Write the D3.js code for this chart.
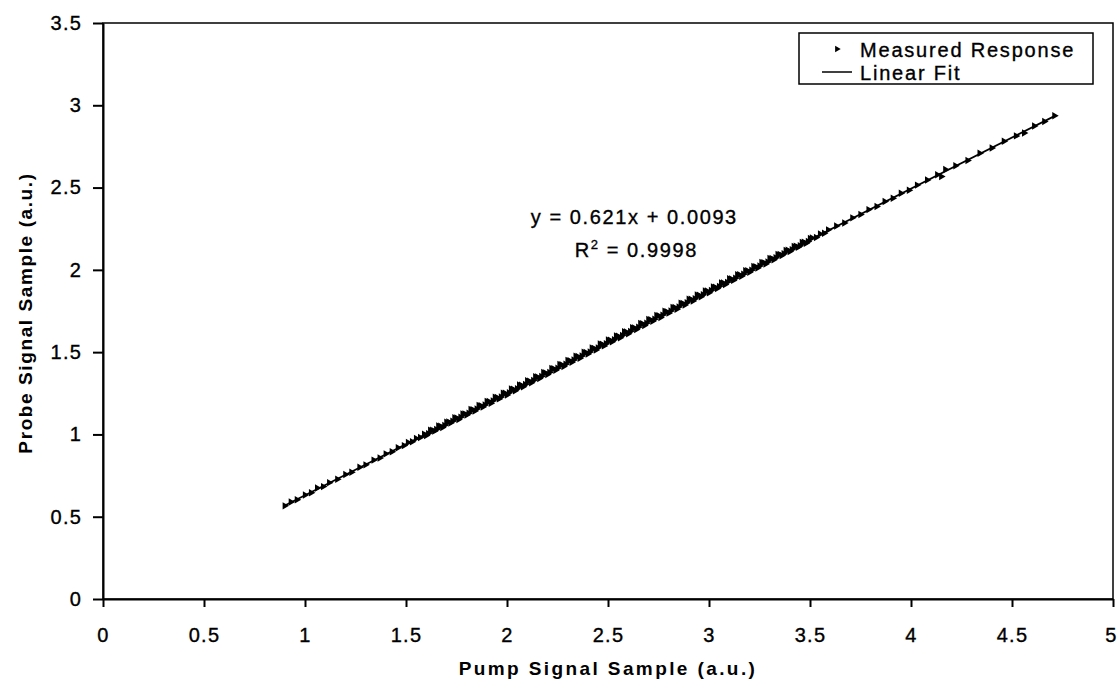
<!DOCTYPE html>
<html>
<head>
<meta charset="utf-8">
<script src="https://cdn.jsdelivr.net/npm/d3@7"></script>
<style>
	body { margin: 0; background: #fff; }
	svg { display: block; font-family: "Liberation Sans", Arial, sans-serif; }
	.tick text { font-size: 20px; letter-spacing: 1.2px; fill: #000; stroke: #000; stroke-width: 0.35px; }
	.tick line { stroke: #000; stroke-width: 2; }
	.domain { stroke: #000; stroke-width: 2; }
	.plain { stroke: #000; stroke-width: 0.35px; }
</style>
</head>
<body>
<div id="chart"></div>
<script>
"use strict";

const width = 1118, height = 687;

//  Data
const pumpSignal = [
	0.90, 0.93, 0.96, 1.00, 1.03, 1.06, 1.09, 1.12, 1.16, 1.20, 1.23, 1.27, 1.30, 1.34, 1.37, 1.40, 1.43, 1.46, 1.49,
	1.51, 1.53, 1.55, 1.57, 1.59, 1.61, 1.63, 1.65, 1.67, 1.69, 1.71, 1.73, 1.75, 1.77, 1.79,
	1.81, 1.83, 1.85, 1.87, 1.89, 1.91, 1.93, 1.95, 1.97, 1.99,
	2.01, 2.03, 2.05, 2.07, 2.09, 2.11, 2.13, 2.15, 2.17, 2.19,
	2.21, 2.23, 2.25, 2.27, 2.29, 2.31, 2.33, 2.35, 2.37, 2.39,
	2.41, 2.43, 2.45, 2.47, 2.49, 2.51, 2.53, 2.55, 2.57, 2.59,
	2.61, 2.63, 2.65, 2.67, 2.69, 2.71, 2.73, 2.75, 2.77, 2.79,
	2.81, 2.83, 2.85, 2.87, 2.89, 2.91, 2.93, 2.95, 2.97, 2.99,
	3.01, 3.03, 3.05, 3.07, 3.09, 3.11, 3.13, 3.15, 3.17, 3.19,
	3.21, 3.23, 3.25, 3.27, 3.29, 3.31, 3.33, 3.35, 3.37, 3.39,
	3.41, 3.43, 3.45, 3.47, 3.49, 3.51, 3.53, 3.55, 3.57, 3.59,
	3.63, 3.67, 3.71, 3.75, 3.79, 3.83, 3.87, 3.91, 3.95, 3.99,
	4.03, 4.08, 4.13, 4.15, 4.17, 4.22, 4.28, 4.34, 4.40, 4.46, 4.52, 4.56, 4.61, 4.66, 4.71
];
const probeSignal = [
	0.566, 0.589, 0.603, 0.632, 0.646, 0.674, 0.683, 0.707, 0.728, 0.757, 0.770, 0.801, 0.815, 0.844, 0.857, 0.882, 0.895, 0.919, 0.932,
	0.951, 0.956, 0.976, 0.981, 1.001, 1.005, 1.026, 1.030, 1.050, 1.055, 1.075, 1.080, 1.100, 1.104, 1.125,
	1.129, 1.150, 1.154, 1.175, 1.179, 1.200, 1.204, 1.225, 1.228, 1.250,
	1.253, 1.274, 1.277, 1.299, 1.303, 1.324, 1.328, 1.349, 1.352, 1.374,
	1.377, 1.399, 1.402, 1.423, 1.427, 1.448, 1.452, 1.473, 1.476, 1.498,
	1.501, 1.523, 1.526, 1.548, 1.551, 1.572, 1.576, 1.597, 1.601, 1.622,
	1.626, 1.647, 1.651, 1.672, 1.676, 1.697, 1.700, 1.722, 1.725, 1.746,
	1.750, 1.771, 1.775, 1.796, 1.800, 1.821, 1.824, 1.846, 1.849, 1.871,
	1.874, 1.895, 1.899, 1.920, 1.924, 1.945, 1.949, 1.970, 1.973, 1.995,
	1.998, 2.019, 2.023, 2.044, 2.048, 2.069, 2.073, 2.094, 2.098, 2.119,
	2.123, 2.143, 2.147, 2.168, 2.172, 2.193, 2.197, 2.218, 2.222, 2.243,
	2.266, 2.285, 2.316, 2.336, 2.366, 2.385, 2.415, 2.435, 2.465, 2.484,
	2.515, 2.546, 2.578, 2.567, 2.610, 2.633, 2.665, 2.708, 2.740, 2.782, 2.814, 2.832, 2.874, 2.901, 2.937
];
//  second, interleaved run of samples in the dense middle of the band
const pumpSignalMid = [
	1.60, 1.62, 1.64, 1.66, 1.68, 1.70, 1.72, 1.74, 1.76, 1.78,
	1.80, 1.82, 1.84, 1.86, 1.88, 1.90, 1.92, 1.94, 1.96, 1.98,
	2.00, 2.02, 2.04, 2.06, 2.08, 2.10, 2.12, 2.14, 2.16, 2.18,
	2.20, 2.22, 2.24, 2.26, 2.28, 2.30, 2.32, 2.34, 2.36, 2.38,
	2.40, 2.42, 2.44, 2.46, 2.48, 2.50, 2.52, 2.54, 2.56, 2.58,
	2.60, 2.62, 2.64, 2.66, 2.68, 2.70, 2.72, 2.74, 2.76, 2.78,
	2.80, 2.82, 2.84, 2.86, 2.88, 2.90, 2.92, 2.94, 2.96, 2.98,
	3.00, 3.02, 3.04, 3.06, 3.08, 3.10, 3.12, 3.14, 3.16, 3.18,
	3.20, 3.22, 3.24, 3.26, 3.28, 3.30, 3.32, 3.34, 3.36, 3.38,
	3.40, 3.42, 3.44, 3.46, 3.48, 3.50
];
const probeSignalMid = [
	0.994, 1.026, 1.020, 1.052, 1.042, 1.074, 1.069, 1.101, 1.091, 1.125,
	1.118, 1.151, 1.142, 1.176, 1.166, 1.201, 1.190, 1.226, 1.216, 1.251,
	1.240, 1.276, 1.265, 1.301, 1.290, 1.326, 1.314, 1.351, 1.340, 1.376,
	1.364, 1.401, 1.390, 1.425, 1.413, 1.450, 1.439, 1.475, 1.463, 1.500,
	1.488, 1.525, 1.513, 1.550, 1.538, 1.574, 1.563, 1.599, 1.588, 1.624,
	1.612, 1.649, 1.637, 1.674, 1.662, 1.698, 1.687, 1.723, 1.711, 1.748,
	1.737, 1.772, 1.761, 1.797, 1.786, 1.822, 1.811, 1.847, 1.836, 1.872,
	1.861, 1.896, 1.886, 1.921, 1.911, 1.946, 1.936, 1.971, 1.961, 1.995,
	1.986, 2.020, 2.011, 2.045, 2.036, 2.069, 2.061, 2.094, 2.087, 2.118,
	2.112, 2.142, 2.137, 2.167, 2.161, 2.191
];
const fitEnds = [0.90, 4.71];
const fitSlope = 0.621, fitIntercept = 0.0093;
const xTicks = [0, 0.5, 1, 1.5, 2, 2.5, 3, 3.5, 4, 4.5, 5];
const yTicks = [0, 0.5, 1, 1.5, 2, 2.5, 3, 3.5];
const legendLabels = ['Measured Response', 'Linear Fit'];

const margin = { top: 23, right: 5, bottom: 88, left: 103 };
const plotW = width - margin.left - margin.right;
const plotH = height - margin.top - margin.bottom;

let svg = d3.select('#chart').append('svg')
	.attr('width', width)
	.attr('height', height);

let g = svg.append('g')
	.attr('transform', `translate(${margin.left}, ${margin.top})`);

let x = d3.scaleLinear().domain([0, 5]).range([0, plotW]);
let y = d3.scaleLinear().domain([0, 3.5]).range([plotH, 0]);

//  Plot frame
g.append('rect')
	.attr('width', plotW)
	.attr('height', plotH)
	.attr('fill', 'none')
	.attr('stroke', '#000')
	.attr('stroke-width', 1.5);

//  Axes
let xAxis = g.append('g')
	.attr('transform', `translate(0, ${plotH})`)
	.call(d3.axisBottom(x).tickValues(xTicks).tickFormat(d3.format('')).tickSize(8).tickSizeOuter(0).tickPadding(21));

//  last label sits right on the page edge, pull it in a touch
xAxis.selectAll('.tick text').filter(d => d === 5).attr('dx', -2);

g.append('g')
	.call(d3.axisLeft(y).tickValues(yTicks).tickFormat(d3.format('')).tickSize(10).tickSizeOuter(0).tickPadding(11));

//  Linear fit
let fitLine = d3.line()
	.x(d => x(d))
	.y(d => y(fitSlope * d + fitIntercept));

g.append('path')
	.datum(fitEnds)
	.attr('d', fitLine)
	.attr('fill', 'none')
	.attr('stroke', '#000')
	.attr('stroke-width', 1.8);

//  Measured points
let marker = d3.symbol().type(d3.symbolTriangle).size(24);

let points = d3.zip(pumpSignal, probeSignal).concat(d3.zip(pumpSignalMid, probeSignalMid));

g.selectAll('.pt')
	.data(points)
	.join('path')
	.classed('pt', true)
	.attr('d', marker)
	.attr('transform', d => `translate(${x(d[0])}, ${y(d[1])}) rotate(90)`)
	.attr('fill', '#000');

//  Equation
let eq = g.append('text')
	.classed('plain', true)
	.attr('x', x(2.63))
	.attr('y', y(2.28))
	.attr('text-anchor', 'middle')
	.style('font-size', '20px')
	.style('letter-spacing', '1.6px');
eq.append('tspan').text('y = 0.621x + 0.0093');
eq.append('tspan')
	.attr('x', x(2.64)).attr('dy', 33)
	.text('R');
eq.append('tspan').attr('dy', -8).style('font-size', '13px').text('2');
eq.append('tspan').attr('dy', 8).text(' = 0.9998');

//  Axis titles
svg.append('text')
	.attr('x', margin.left + plotW / 2)
	.attr('y', 675)
	.attr('text-anchor', 'middle')
	.style('font-size', '19px')
	.style('font-weight', 'bold')
	.style('letter-spacing', '2.4px')
	.text('Pump Signal Sample (a.u.)');

svg.append('text')
	.attr('transform', `translate(32, ${margin.top + plotH / 2 + 2}) rotate(-90)`)
	.attr('text-anchor', 'middle')
	.style('font-size', '19px')
	.style('font-weight', 'bold')
	.style('letter-spacing', '1.6px')
	.text('Probe Signal Sample (a.u.)');

//  Legend
let legend = svg.append('g')
	.attr('transform', 'translate(799, 33)');

legend.append('rect')
	.attr('width', 294)
	.attr('height', 51)
	.attr('fill', '#fff')
	.attr('stroke', '#000')
	.attr('stroke-width', 1.5);

legend.append('path')
	.attr('d', d3.symbol().type(d3.symbolTriangle).size(18))
	.attr('transform', 'translate(38, 16) rotate(90)');

legend.append('line')
	.attr('x1', 23).attr('x2', 53)
	.attr('y1', 39).attr('y2', 39)
	.attr('stroke', '#000')
	.attr('stroke-width', 1.5);

legend.selectAll('.label')
	.data(legendLabels)
	.join('text')
	.classed('label plain', true)
	.attr('x', 61)
	.attr('y', (d, i) => 24 + i * 23)
	.style('font-size', '20px')
	.style('letter-spacing', '1.8px')
	.text(d => d);
</script>
</body>
</html>
